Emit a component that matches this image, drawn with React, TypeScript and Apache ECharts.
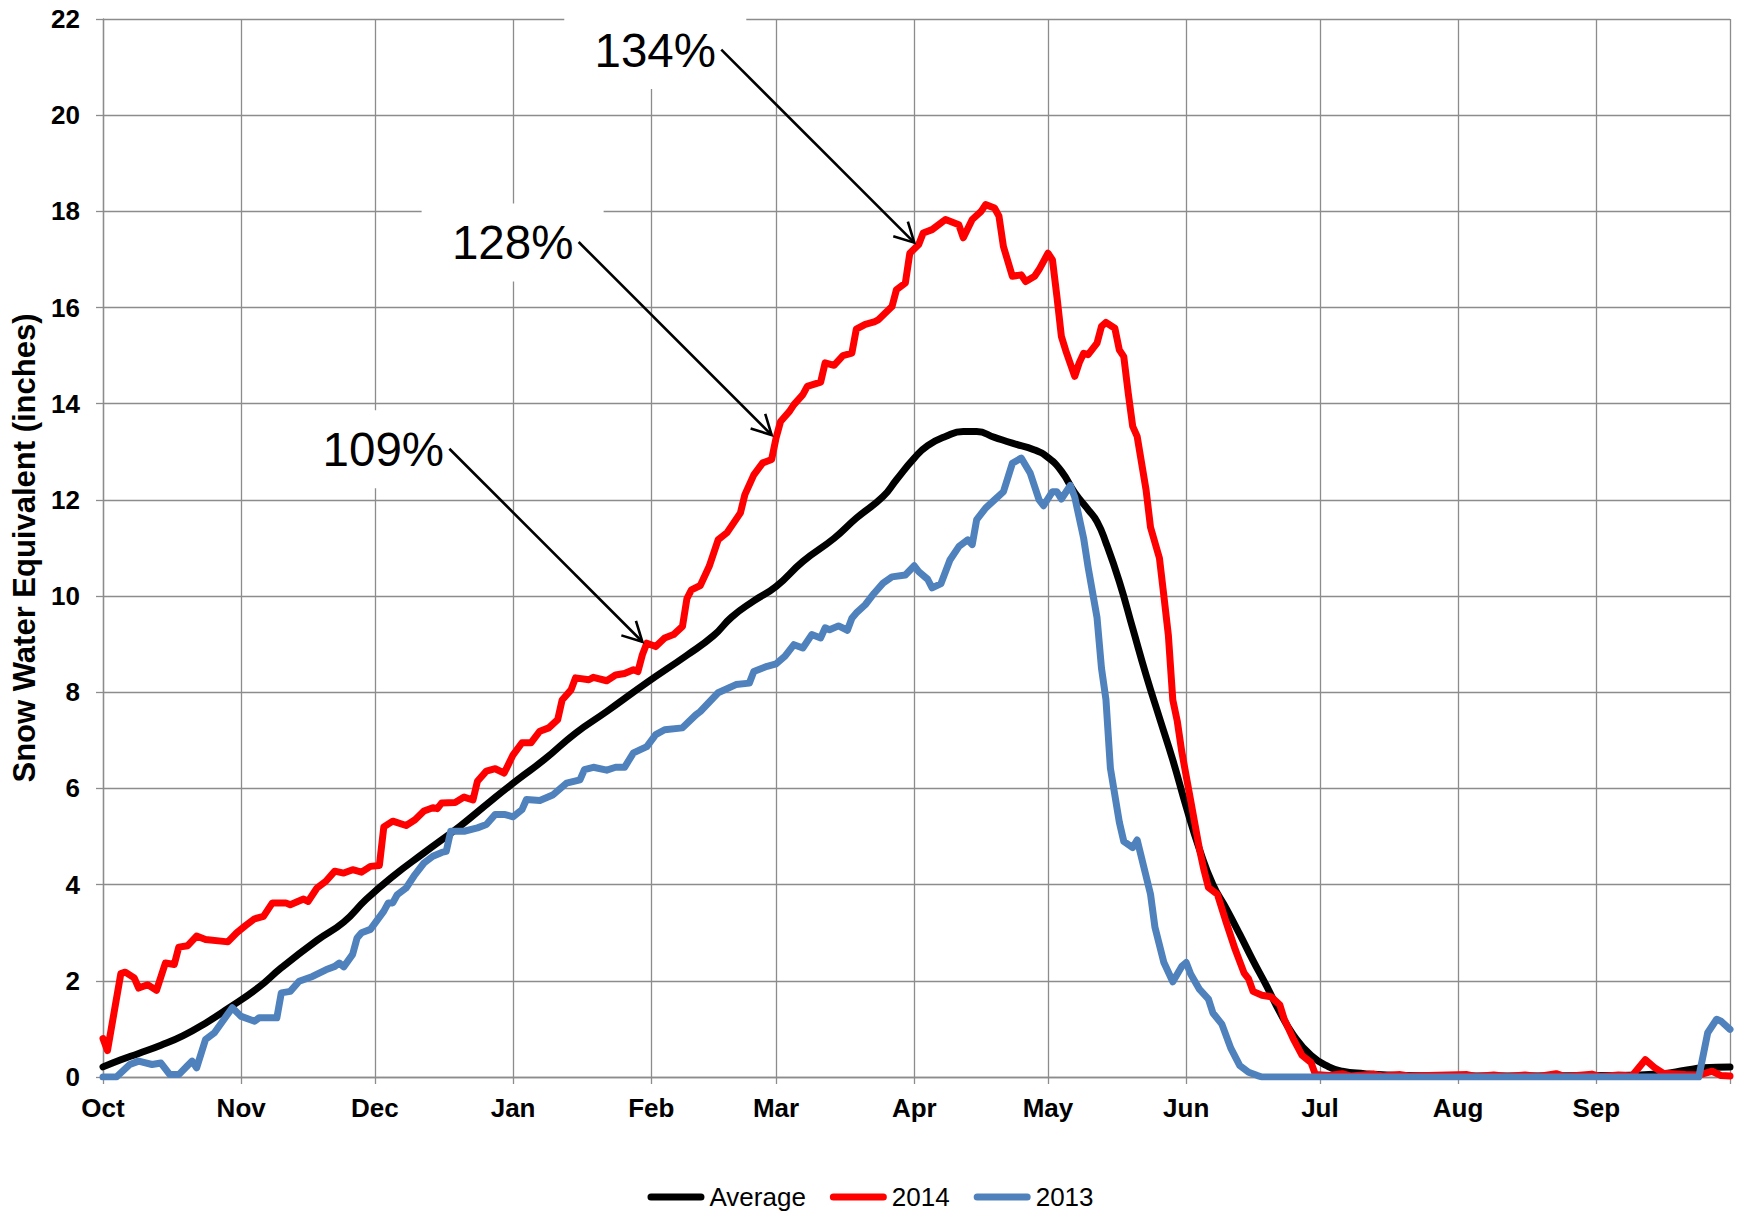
import React, { useEffect, useRef } from "react";
import * as echarts from "echarts";

// ---------- data (day index from Oct 1, value in inches) ----------
const monthLabels = ["Oct", "Nov", "Dec", "Jan", "Feb", "Mar", "Apr", "May", "Jun", "Jul", "Aug", "Sep"];
const monthStartDays = [0, 31, 61, 92, 123, 151, 182, 212, 243, 273, 304, 335, 365];
const totalDays = 365;

const yMin = 0;
const yMax = 22;
const yInterval = 2;

const seriesNames = ["Average", "2014", "2013"];
const seriesColors = ["#000000", "#FF0000", "#4F81BD"];

const averageData: [number, number][] = [
  [0, 0.21], [4, 0.36], [8, 0.49], [13, 0.66], [18, 0.86], [23, 1.12], [28, 1.42], [35, 1.87],
  [40, 2.27], [48, 2.84], [54, 3.22], [59, 3.69], [65, 4.17], [72, 4.66], [80, 5.21], [87, 5.74],
  [93, 6.18], [99, 6.6], [106, 7.15], [113, 7.6], [122, 8.2], [131, 8.77], [137, 9.18], [141, 9.56],
  [146, 9.9], [151, 10.2], [157, 10.72], [164, 11.2], [169, 11.62], [175, 12.07], [178, 12.42],
  [182, 12.87], [185, 13.13], [189, 13.32], [193, 13.42], [196, 13.42], [200, 13.3], [204, 13.18],
  [209, 13.04], [212, 12.88], [215, 12.6], [218, 12.15], [221, 11.8], [223, 11.55], [225, 11.11],
  [228, 10.3], [231, 9.33], [234, 8.36], [237, 7.47], [240, 6.59], [243, 5.62], [246, 4.73],
  [249, 4.0], [252, 3.5], [255, 2.97], [258, 2.42], [261, 1.9], [264, 1.35], [267, 0.88],
  [271, 0.45], [275, 0.21], [278, 0.12], [283, 0.07], [288, 0.04], [300, 0.02], [340, 0.03],
  [350, 0.07], [355, 0.14], [359, 0.19], [365, 0.21],
];

const data2014: [number, number][] = [
  [0, 0.8], [1, 0.55], [4, 2.15], [5, 2.18], [7, 2.06], [8, 1.85], [10, 1.92], [12, 1.8],
  [14, 2.37], [16, 2.34], [17, 2.7], [19, 2.73], [21, 2.93], [23, 2.86], [27, 2.82], [28, 2.81],
  [30, 3.0], [32, 3.15], [34, 3.29], [36, 3.34], [38, 3.62], [41, 3.62], [42, 3.58], [45, 3.7],
  [46, 3.65], [48, 3.93], [50, 4.07], [52, 4.28], [54, 4.24], [56, 4.31], [58, 4.26], [60, 4.38],
  [62, 4.4], [63, 5.2], [65, 5.32], [68, 5.23], [70, 5.35], [72, 5.53], [74, 5.6], [75, 5.58],
  [76, 5.7], [79, 5.71], [81, 5.82], [83, 5.76], [84, 6.15], [86, 6.36], [88, 6.41], [90, 6.32],
  [92, 6.7], [94, 6.95], [96, 6.95], [98, 7.19], [100, 7.26], [102, 7.43], [103, 7.84], [105, 8.05],
  [106, 8.3], [109, 8.26], [110, 8.31], [113, 8.24], [115, 8.36], [117, 8.39], [119, 8.47],
  [120, 8.43], [121, 8.78], [122, 9.02], [124, 8.95], [126, 9.13], [128, 9.2], [130, 9.37],
  [131, 9.95], [132, 10.13], [134, 10.22], [136, 10.62], [138, 11.17], [140, 11.32], [143, 11.73],
  [144, 12.11], [146, 12.52], [148, 12.77], [150, 12.84], [151, 13.29], [152, 13.63], [154, 13.84],
  [155, 13.98], [157, 14.19], [158, 14.36], [161, 14.45], [162, 14.85], [164, 14.8], [166, 15.0],
  [168, 15.05], [169, 15.55], [171, 15.65], [173, 15.7], [174, 15.75], [177, 16.02], [178, 16.37],
  [180, 16.51], [181, 17.13], [183, 17.31], [184, 17.55], [186, 17.62], [189, 17.83], [192, 17.72],
  [193, 17.45], [195, 17.83], [197, 18.0], [198, 18.14], [200, 18.07], [201, 17.9], [202, 17.27],
  [204, 16.65], [206, 16.68], [207, 16.54], [209, 16.65], [210, 16.79], [212, 17.13], [213, 16.99],
  [214, 16.23], [215, 15.4], [216, 15.1], [218, 14.57], [219, 14.85], [220, 15.05], [221, 15.02],
  [223, 15.26], [224, 15.61], [225, 15.69], [227, 15.57], [228, 15.12], [229, 14.98], [230, 14.22],
  [231, 13.53], [232, 13.32], [234, 12.21], [235, 11.43], [237, 10.79], [238, 10.0], [239, 9.19],
  [240, 7.84], [241, 7.4], [242, 6.77], [244, 5.75], [246, 4.73], [247, 4.3], [248, 3.94],
  [250, 3.8], [252, 3.21], [254, 2.65], [256, 2.16], [257, 2.04], [258, 1.78], [260, 1.7],
  [262, 1.67], [264, 1.5], [265, 1.2], [267, 0.8], [269, 0.45], [271, 0.3], [272, 0.05],
  [275, 0.03], [278, 0.07], [280, 0.02], [285, 0.06], [287, 0.02], [291, 0.05], [293, 0.02],
  [306, 0.05], [308, 0.01], [312, 0.04], [315, 0.01], [319, 0.04], [322, 0.01], [326, 0.07],
  [328, 0.01], [334, 0.06], [336, 0.01], [340, 0.04], [343, 0.02], [346, 0.36], [348, 0.2],
  [350, 0.08], [355, 0.05], [358, 0.04], [361, 0.12], [363, 0.03], [365, 0.02],
];

const data2013: [number, number][] = [
  [0, 0], [3, 0], [6, 0.26], [8, 0.33], [11, 0.26], [13, 0.29], [15, 0.05], [17, 0.05],
  [19, 0.24], [20, 0.33], [21, 0.19], [23, 0.78], [25, 0.92], [26, 1.05], [29, 1.44], [31, 1.26],
  [34, 1.16], [35, 1.23], [39, 1.23], [40, 1.75], [42, 1.78], [44, 1.99], [47, 2.09], [50, 2.23],
  [52, 2.3], [53, 2.37], [54, 2.29], [56, 2.55], [57, 2.89], [58, 3.0], [60, 3.07], [63, 3.45],
  [64, 3.62], [65, 3.62], [66, 3.79], [68, 3.93], [70, 4.21], [72, 4.45], [74, 4.59], [76, 4.67],
  [77, 4.69], [78, 5.11], [81, 5.11], [84, 5.18], [86, 5.25], [88, 5.46], [90, 5.46], [92, 5.41],
  [94, 5.56], [95, 5.77], [98, 5.75], [101, 5.87], [104, 6.11], [107, 6.18], [108, 6.39],
  [110, 6.44], [113, 6.38], [115, 6.44], [117, 6.44], [119, 6.74], [122, 6.87], [124, 7.12],
  [126, 7.22], [130, 7.26], [133, 7.53], [134, 7.6], [138, 7.99], [142, 8.16], [145, 8.19],
  [146, 8.43], [149, 8.54], [151, 8.59], [153, 8.75], [155, 8.99], [157, 8.92], [159, 9.2],
  [161, 9.13], [162, 9.34], [163, 9.3], [165, 9.38], [167, 9.29], [168, 9.54], [169, 9.65],
  [171, 9.82], [173, 10.06], [175, 10.27], [177, 10.4], [180, 10.44], [182, 10.63], [183, 10.51],
  [185, 10.35], [186, 10.17], [188, 10.26], [190, 10.75], [192, 11.03], [194, 11.17], [195, 11.07],
  [196, 11.59], [198, 11.83], [200, 12.0], [202, 12.17], [204, 12.76], [206, 12.87], [208, 12.56],
  [210, 12.0], [211, 11.88], [213, 12.17], [214, 12.17], [215, 12.02], [217, 12.3], [218, 12.06],
  [220, 11.2], [221, 10.6], [223, 9.55], [224, 8.5], [225, 7.85], [226, 6.42], [228, 5.3],
  [229, 4.9], [231, 4.77], [232, 4.93], [235, 3.8], [236, 3.11], [238, 2.38], [240, 1.98],
  [242, 2.3], [243, 2.38], [244, 2.14], [246, 1.82], [248, 1.62], [249, 1.33], [251, 1.1],
  [253, 0.6], [255, 0.24], [257, 0.1], [259, 0.03], [260, 0], [358, 0], [360, 0.92], [362, 1.2],
  [363, 1.16], [365, 0.99],
];

const annotationTexts = ["134%", "128%", "109%"];
const annotationDays = [182, 150, 121];
const annotationValues = [17.35, 13.35, 9.05];

// ---------- styling ----------
const FONT = '"Liberation Sans", Arial, sans-serif';
const GRID_COLOR = "#8c8c8c";
const LEGEND_ICON = "path://M3.5,0 L53.5,0 A3.5,3.5 0 0 1 53.5,7 L3.5,7 A3.5,3.5 0 0 1 3.5,0 Z";

export default function App() {
  const ref = useRef<HTMLDivElement>(null);

  useEffect(() => {
    if (!ref.current) return;
    const chart = echarts.init(ref.current, null, { renderer: "svg" });

    const categories: string[] = [];
    for (let i = 0; i <= totalDays; i++) {
      const k = monthStartDays.indexOf(i);
      categories.push(k >= 0 && k < monthLabels.length ? monthLabels[k] : "");
    }
    const isMonthStart = (idx: number) => monthStartDays.indexOf(idx) >= 0;

    const datasets = [averageData, data2014, data2013];

    const option: any = {
      animation: false,
      backgroundColor: "#ffffff",
      grid: {
        left: 103,
        right: 11,
        top: 19,
        bottom: 135,
        containLabel: false,
        outerBoundsMode: "none",
      },
      legend: {
        data: seriesNames.map((n) => ({ name: n, icon: LEGEND_ICON })),
        left: "center",
        top: 1184,
        padding: 0,
        itemWidth: 57,
        itemHeight: 7,
        itemGap: 24,
        selectedMode: false,
        textStyle: { fontFamily: FONT, fontSize: 26, color: "#000", lineHeight: 26 },
      },
      xAxis: {
        type: "category",
        data: categories,
        boundaryGap: false,
        axisLine: { show: true, lineStyle: { color: GRID_COLOR, width: 1.3 } },
        axisTick: {
          show: true,
          length: 7,
          interval: (idx: number) => isMonthStart(idx),
          lineStyle: { color: GRID_COLOR, width: 1.3 },
        },
        axisLabel: {
          interval: (idx: number) => isMonthStart(idx) && idx < totalDays,
          margin: 18,
          fontFamily: FONT,
          fontWeight: "bold",
          fontSize: 26,
          color: "#000",
        },
        splitLine: {
          show: true,
          interval: (idx: number) => isMonthStart(idx),
          lineStyle: { color: GRID_COLOR, width: 1.3 },
        },
      },
      yAxis: {
        type: "value",
        min: yMin,
        max: yMax,
        interval: yInterval,
        name: "Snow Water Equivalent (inches)",
        nameLocation: "middle",
        nameGap: 62,
        nameTextStyle: { fontFamily: FONT, fontWeight: "bold", fontSize: 31, color: "#000" },
        axisLine: { show: true, lineStyle: { color: GRID_COLOR, width: 1.3 } },
        axisTick: { show: true, length: 7, lineStyle: { color: GRID_COLOR, width: 1.3 } },
        axisLabel: {
          margin: 23,
          fontFamily: FONT,
          fontWeight: "bold",
          fontSize: 26,
          color: "#000",
        },
        splitLine: { show: true, lineStyle: { color: GRID_COLOR, width: 1.3 } },
      },
      series: seriesNames.map((name, i) => ({
        name,
        type: "line",
        data: datasets[i],
        symbol: "none",
        showSymbol: false,
        smooth: i === 0 ? 0.5 : false,
        silent: true,
        color: seriesColors[i],
        itemStyle: { color: seriesColors[i] },
        lineStyle: { color: seriesColors[i], width: 7, cap: "round", join: "round" },
        emphasis: { disabled: true },
      })),
    };

    chart.setOption(option);

    // annotations: label + white box + arrow pointing to a data point
    const graphics: any[] = [];
    annotationTexts.forEach((txt, i) => {
      const p = chart.convertToPixel({ gridIndex: 0 }, [annotationDays[i], annotationValues[i]]) as number[];
      const tx = p[0];
      const ty = p[1];
      const cx = tx - 259;
      const cy = ty - 192.5;
      graphics.push({
        type: "rect",
        z: 50,
        silent: true,
        shape: { x: cx - 91, y: cy - 39, width: 182, height: 78 },
        style: { fill: "#ffffff" },
      });
      graphics.push({
        type: "text",
        z: 52,
        silent: true,
        x: cx,
        y: cy,
        style: {
          text: txt,
          fontFamily: FONT,
          fontSize: 47.5,
          fill: "#000",
          textAlign: "center",
          textVerticalAlign: "middle",
        },
      });
      graphics.push({
        type: "line",
        z: 52,
        silent: true,
        shape: { x1: tx - 193, y1: ty - 193, x2: tx, y2: ty },
        style: { stroke: "#000", lineWidth: 2.6 },
      });
      graphics.push({
        type: "polyline",
        z: 52,
        silent: true,
        shape: { points: [[tx - 21, ty - 6.4], [tx, ty], [tx - 6.4, ty - 21]] },
        style: { stroke: "#000", lineWidth: 2.6, fill: null, lineJoin: "miter" },
      });
    });
    chart.setOption({ graphic: graphics });

    return () => {
      chart.dispose();
    };
  }, []);

  return (
    <div
      ref={ref}
      style={{ position: "absolute", left: 0, top: 0, width: 1741, height: 1212, background: "#fff" }}
    />
  );
}
